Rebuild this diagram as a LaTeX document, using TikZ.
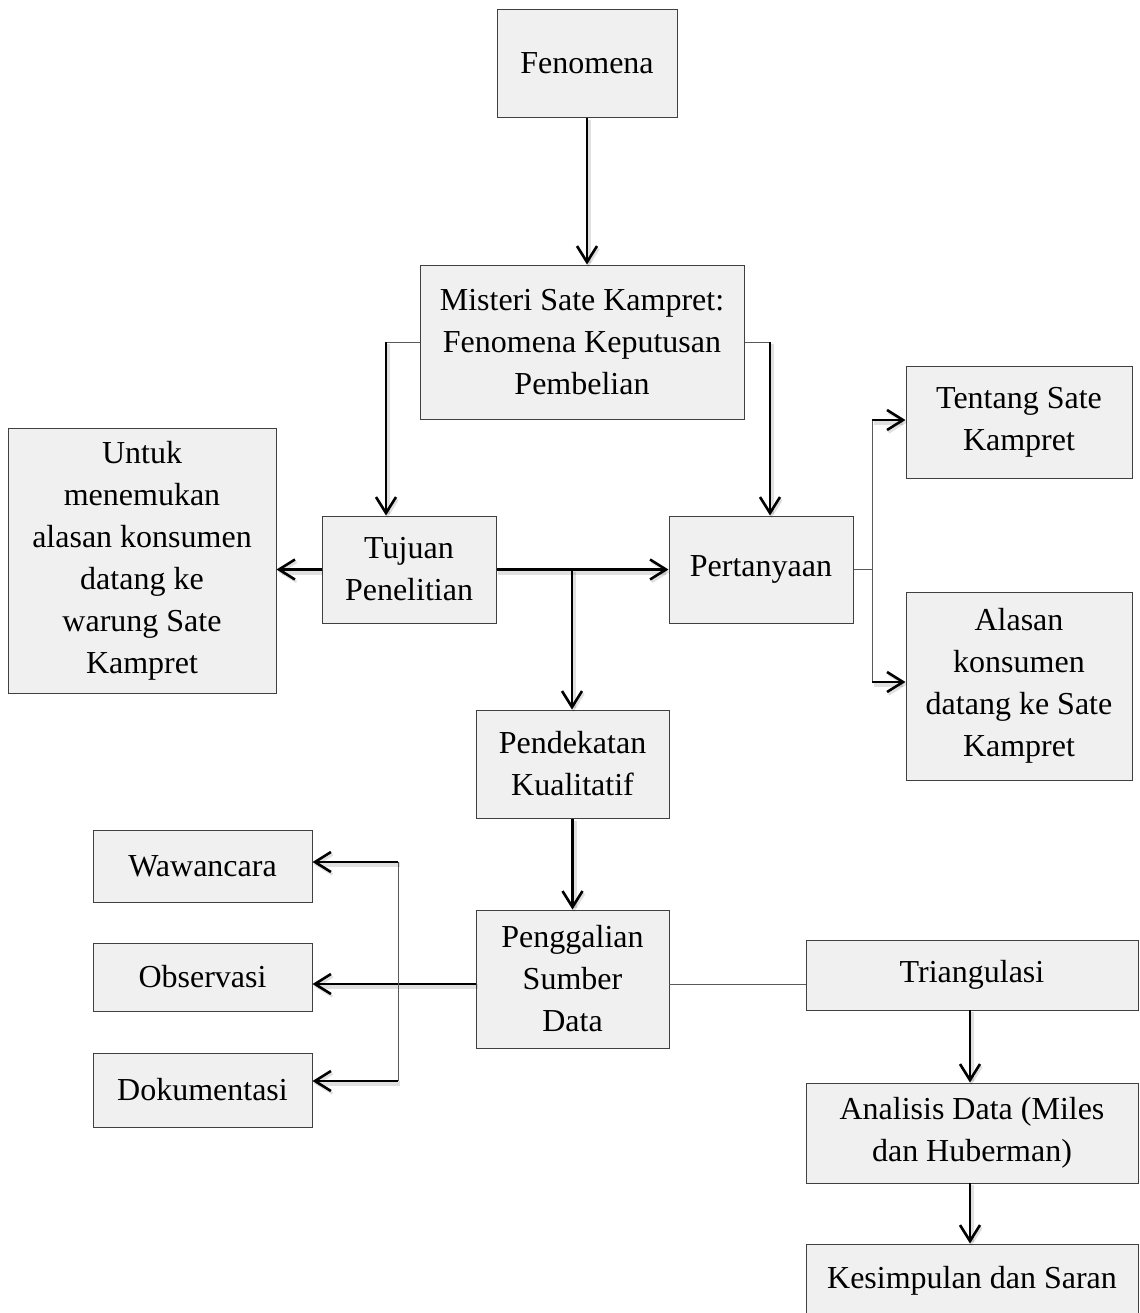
\documentclass[tikz,border=0pt]{standalone}
\usepackage{fontspec}
\setmainfont{Liberation Serif}
\usetikzlibrary{arrows.meta,calc}
\definecolor{boxfill}{HTML}{F0F0F0}
\definecolor{boxline}{HTML}{404040}
\definecolor{thinline}{HTML}{5A5A5A}
\tikzset{
  box/.style={draw=boxline, fill=boxfill, line width=0.5pt, align=center, inner sep=0pt,
    font=\fontsize{16}{21}\selectfont},
  thick arrow/.style={line width=1.3pt, -{Straight Barb[length=8pt,width=10pt,line width=1.3pt]},
    preaction={draw=black, opacity=0.12, line width=2.6pt, transform canvas={shift={(0.8pt,-1.2pt)}}}},
  thin line/.style={draw=thinline, line width=0.5pt},
}
\begin{document}
\begin{tikzpicture}[x=0.5pt,y=-0.5pt]
\useasboundingbox (0,0) rectangle (1140,1313);
% boxes
\node[box, minimum width=90pt, minimum height=54pt] (fen) at (587,63) {Fenomena};
\node[box, minimum width=162pt, minimum height=77pt] (mis) at (582,342) {Misteri Sate Kampret:\\Fenomena Keputusan\\Pembelian};
\node[box, minimum width=87pt, minimum height=53.5pt] (tuj) at (409,569.5) {Tujuan\\Penelitian};
\node[box, minimum width=134pt, minimum height=132.5pt] (unt) at (142,560.5) {Untuk\\menemukan\\alasan konsumen\\datang ke\\warung Sate\\Kampret};
\node[box, minimum width=92pt, minimum height=53.5pt] (per) at (761,569.5) {Pertanyaan};
\node[box, minimum width=113pt, minimum height=56pt] (ten) at (1019,422) {Tentang Sate\\Kampret};
\node[box, minimum width=113pt, minimum height=94pt] (ala) at (1019,686) {Alasan\\konsumen\\datang ke Sate\\Kampret};
\node[box, minimum width=96.5pt, minimum height=54pt] (pen) at (572.5,764) {Pendekatan\\Kualitatif};
\node[box, minimum width=96.5pt, minimum height=69pt] (gal) at (572.5,979) {Penggalian\\Sumber\\Data};
\node[box, minimum width=109.5pt, minimum height=36pt] (waw) at (202.5,866) {Wawancara};
\node[box, minimum width=109.5pt, minimum height=34pt] (obs) at (202.5,977) {Observasi};
\node[box, minimum width=109.5pt, minimum height=37pt] (dok) at (202.5,1090) {Dokumentasi};
\node[box, minimum width=166pt, minimum height=35pt] (tri) at (972,975) {Triangulasi};
\node[box, minimum width=166pt, minimum height=50pt] (ana) at (972,1133) {Analisis Data (Miles\\dan Huberman)};
\node[box, minimum width=166pt, minimum height=37pt] (kes) at (972,1281) {Kesimpulan dan Saran};
% junction coordinates
\coordinate (ml) at (386,342);
\coordinate (mr) at (770,342);
\coordinate (tb) at (572,569.5);
\coordinate (pj) at (872,569.5);
\coordinate (pt) at (872,420);
\coordinate (pb) at (872,682);
\coordinate (gt) at (398,862);
\coordinate (gb) at (398,1081);
\coordinate (gw) at (476,984);
\coordinate (ge) at (669,984);
\coordinate (ts) at (970,1010);
\coordinate (as) at (970,1183);
% connectors
\draw[thick arrow] (fen.south) -- (fen.south |- mis.north);
\draw[thin line] (mis.west) -- (ml);
\draw[thick arrow] (ml) -- (ml |- tuj.north);
\draw[thin line] (mis.east) -- (mr);
\draw[thick arrow] (mr) -- (mr |- per.north);
\draw[thick arrow] (tuj.west) -- (tuj.west -| unt.east);
\draw[thick arrow] (tuj.east) -- (per.west);
\draw[thick arrow] (tb) -- (tb |- pen.north);
\draw[thin line] (per.east) -- (pj);
\draw[thin line] (pt) -- (pb);
\draw[thick arrow] (pt) -- (pt -| ten.west);
\draw[thick arrow] (pb) -- (pb -| ala.west);
\draw[thick arrow] (pen.south) -- (gal.north);
\draw[thick arrow] (gw) -- (gw -| obs.east);
\draw[thin line] (gt) -- (gb);
\draw[thick arrow] (gt) -- (gt -| waw.east);
\draw[thick arrow] (gb) -- (gb -| dok.east);
\draw[thin line] (ge) -- (ge -| tri.west);
\draw[thick arrow] (ts) -- (ts |- ana.north);
\draw[thick arrow] (as) -- (as |- kes.north);
\end{tikzpicture}
\end{document}
